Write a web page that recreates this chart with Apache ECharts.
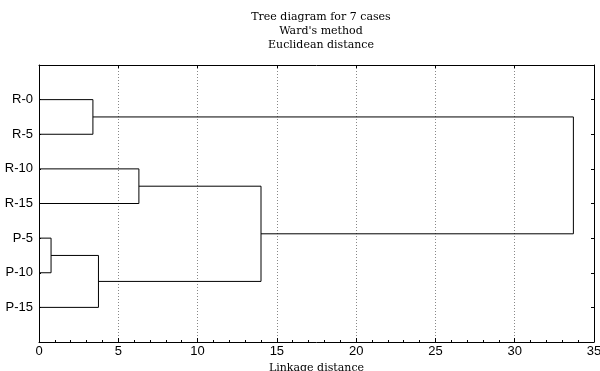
<!DOCTYPE html>
<html><head><meta charset="utf-8">
<script src="https://cdn.jsdelivr.net/npm/echarts@6/dist/echarts.min.js"></script>
<style>html,body{margin:0;padding:0;background:#fff}#c{width:600px;height:371px}</style>
</head><body><div id="c"></div>
<script>
// Leaves (top to bottom)
const leaves = ['R-0', 'R-5', 'R-10', 'R-15', 'P-5', 'P-10', 'P-15'];
// Merges: node ids 0..6 are leaves, merge k creates node 7+k
const mergeA = [0, 2, 4, 9, 8, 7];
const mergeB = [1, 3, 5, 6, 10, 11];
const mergeHeight = [3.4, 6.3, 0.76, 3.75, 14.0, 33.7];
const xTicks = [0, 5, 10, 15, 20, 25, 30, 35];

const nodeX = [], nodeY = [];
leaves.forEach((l, i) => { nodeX.push(0); nodeY.push(i + 1); });
const series = [];
for (let k = 0; k < mergeA.length; k++) {
  const a = mergeA[k], b = mergeB[k], h = mergeHeight[k];
  series.push({
    type: 'line', symbol: 'none', silent: true, animation: false,
    lineStyle: { color: '#000', width: 1 },
    data: [[nodeX[a], nodeY[a]], [h, nodeY[a]], [h, nodeY[b]], [nodeX[b], nodeY[b]]]
  });
  nodeX.push(h); nodeY.push((nodeY[a] + nodeY[b]) / 2);
}

const chart = echarts.init(document.getElementById('c'), null, { renderer: 'canvas' });
const sans = 'Liberation Sans, Arial, sans-serif';
const serif = 'DejaVu Serif, serif';
chart.setOption({
  animation: false,
  title: {
    text: 'Tree diagram for 7 cases\nWard\'s method\nEuclidean distance',
    left: 316, top: 5, textAlign: 'center',
    textStyle: { fontFamily: serif, fontSize: 11, fontWeight: 'normal', color: '#000', lineHeight: 14 }
  },
  grid: { left: 39, right: 6, top: 65, bottom: 29, containLabel: false, outerBoundsMode: 'none' },
  xAxis: [{
    type: 'value', min: xTicks[0], max: xTicks[xTicks.length - 1], interval: 5,
    name: 'Linkage distance', nameLocation: 'middle', nameGap: 18,
    nameTextStyle: { fontFamily: serif, fontSize: 11, color: '#000' },
    axisLine: { show: true, onZero: false, lineStyle: { color: '#000', width: 1 } },
    axisTick: { show: true, inside: true, length: 4, lineStyle: { color: '#000' } },
    minorTick: { show: true, splitNumber: 5, length: 2, lineStyle: { color: '#000' } },
    axisLabel: { fontFamily: sans, fontSize: 13, color: '#000', margin: 3 },
    splitLine: { show: true, lineStyle: { color: '#888', type: [1, 2], width: 1 } }
  }, {
    type: 'value', position: 'top', min: xTicks[0], max: xTicks[xTicks.length - 1], interval: 5,
    axisLine: { show: true, onZero: false, lineStyle: { color: '#000', width: 1 } },
    axisTick: { show: true, inside: true, length: 3, lineStyle: { color: '#000' } },
    minorTick: { show: false },
    axisLabel: { show: false }, splitLine: { show: false }
  }],
  yAxis: [{
    type: 'value', min: 0, max: 8, interval: 1, inverse: true,
    axisLine: { show: true, onZero: false, lineStyle: { color: '#000', width: 1 } },
    axisTick: { show: true, inside: true, length: 2, lineStyle: { color: '#000' } },
    axisLabel: { fontFamily: sans, fontSize: 13, color: '#000', margin: 6,
      formatter: v => (v >= 1 && v <= leaves.length) ? leaves[v - 1] : '' },
    splitLine: { show: false }
  }, {
    type: 'value', position: 'right', min: 0, max: 8, interval: 1, inverse: true,
    axisLine: { show: true, onZero: false, lineStyle: { color: '#000', width: 1 } },
    axisTick: { show: true, inside: true, length: 3, lineStyle: { color: '#000' } },
    axisLabel: { show: false }, splitLine: { show: false }
  }],
  series: series
});
</script></body></html>
